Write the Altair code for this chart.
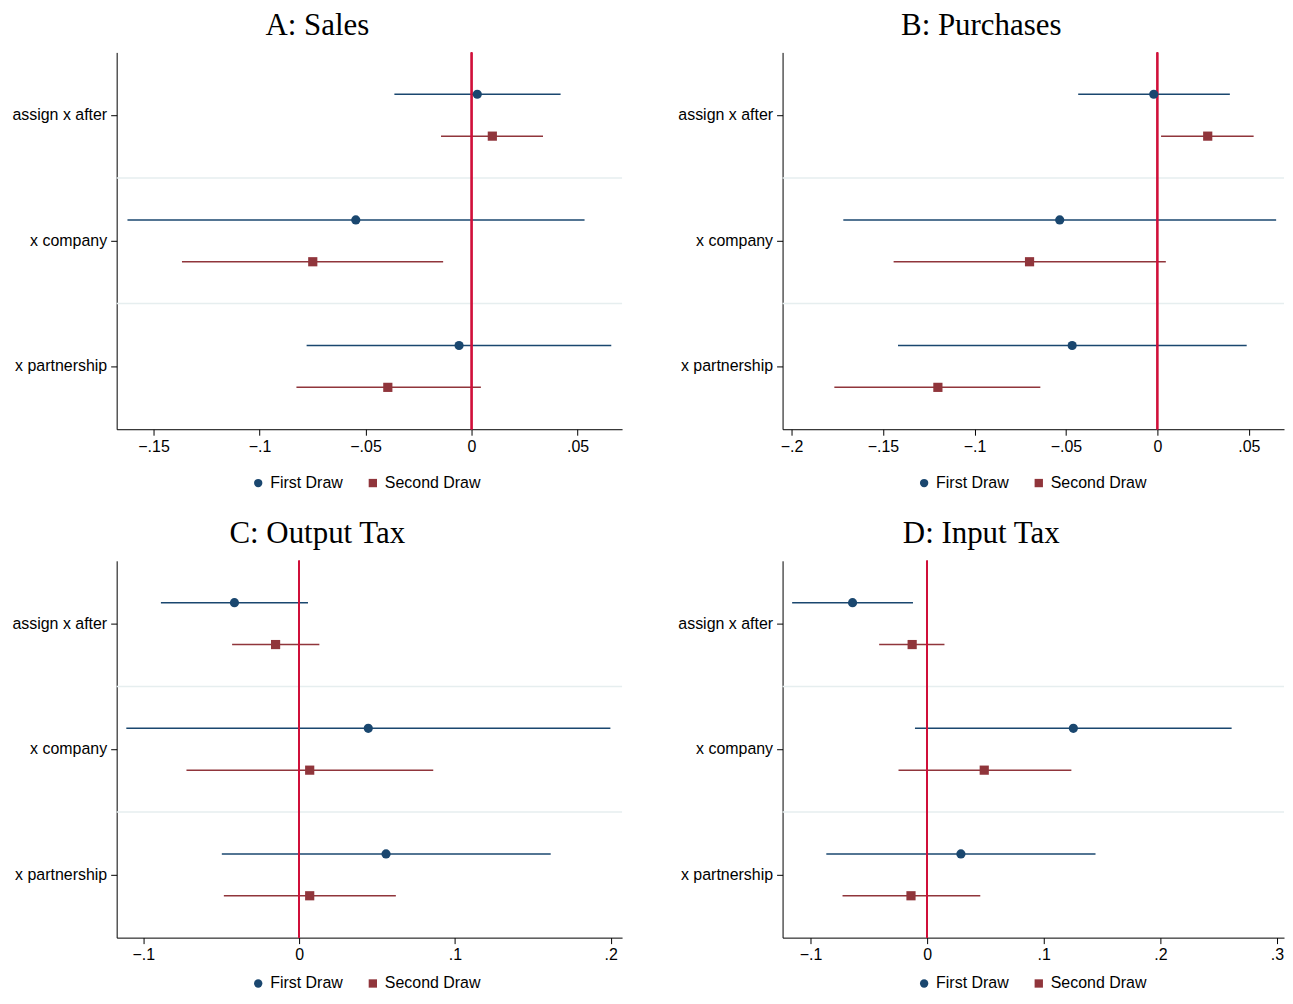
import altair as alt
import pandas as pd

terms = ["assign x after", "x company", "x partnership"]
draws = ["First Draw", "Second Draw"]

# Panel A: Sales
a_first_est = [0.0027, -0.0546, -0.0059]
a_first_lo = [-0.0364, -0.1623, -0.0778]
a_first_hi = [0.0420, 0.0533, 0.0659]
a_second_est = [0.0098, -0.0749, -0.0395]
a_second_lo = [-0.0144, -0.1366, -0.0826]
a_second_hi = [0.0337, -0.0134, 0.0044]

# Panel B: Purchases
b_first_est = [-0.0020, -0.0534, -0.0466]
b_first_lo = [-0.0433, -0.1717, -0.1418]
b_first_hi = [0.0396, 0.0649, 0.0488]
b_second_est = [0.0275, -0.0699, -0.1200]
b_second_lo = [0.0020, -0.1442, -0.1766]
b_second_hi = [0.0526, 0.0046, -0.0640]

# Panel C: Output Tax
c_first_est = [-0.0415, 0.0444, 0.0558]
c_first_lo = [-0.0887, -0.1109, -0.0496]
c_first_hi = [0.0057, 0.1998, 0.1615]
c_second_est = [-0.0151, 0.0068, 0.0068]
c_second_lo = [-0.0430, -0.0723, -0.0483]
c_second_hi = [0.0130, 0.0861, 0.0621]

# Panel D: Input Tax
d_first_est = [-0.0639, 0.1254, 0.0290]
d_first_lo = [-0.1157, -0.0104, -0.0864]
d_first_hi = [-0.0121, 0.2611, 0.1444]
d_second_est = [-0.0128, 0.0490, -0.0138]
d_second_lo = [-0.0411, -0.0245, -0.0725]
d_second_hi = [0.0149, 0.1237, 0.0456]

titles = ["A: Sales", "B: Purchases", "C: Output Tax", "D: Input Tax"]
domains = [[-0.1674, 0.0710], [-0.2049, 0.0692], [-0.1171, 0.2073], [-0.1239, 0.3060]]
tick_values = [
    [-0.15, -0.1, -0.05, 0, 0.05],
    [-0.2, -0.15, -0.1, -0.05, 0, 0.05],
    [-0.1, 0, 0.1, 0.2],
    [-0.1, 0, 0.1, 0.2, 0.3],
]

NAVY = "#1a476f"
MAROON = "#90353b"
ZERO = "#d0103a"
SEP = "#e6eeef"
WIDTHS = [507, 503, 507, 503]
H = 378
LABEL_FONT = "Liberation Sans"

label_expr = ("datum.value == 0 ? '0' : (datum.value < 0 ? '\u2212' : '') + "
              "substring(format(abs(datum.value), '.2~f'), 1)")


def make_df(fe, fl, fh, se, sl, sh):
    rows = []
    for i, t in enumerate(terms):
        rows.append({"term": t, "draw": draws[0], "est": fe[i], "lo": fl[i], "hi": fh[i]})
        rows.append({"term": t, "draw": draws[1], "est": se[i], "lo": sl[i], "hi": sh[i]})
    return pd.DataFrame(rows)


def panel(df, title, domain, ticks, width, legend_y):
    xscale = alt.Scale(domain=domain, nice=False, zero=False)
    xaxis = alt.Axis(values=ticks, labelExpr=label_expr, title=None, grid=False,
                     tickSize=6, labelPadding=3, labelFontSize=16, labelFont=LABEL_FONT,
                     labelColor="black", domainColor="black", tickColor="black")
    yaxis = alt.Axis(title=None, grid=False, tickSize=6, labelPadding=4, labelFontSize=16,
                     labelFont=LABEL_FONT, labelColor="black", domainColor="black",
                     tickColor="black")
    yscale = alt.Scale(domain=terms, paddingInner=0, paddingOuter=0)
    yenc = alt.Y("term:N", sort=terms, scale=yscale, axis=yaxis)
    yoff = alt.YOffset("draw:N", sort=draws,
                       scale=alt.Scale(domain=draws, paddingInner=0, paddingOuter=0.5))
    cscale = alt.Scale(domain=draws, range=[NAVY, MAROON])
    leg = alt.Legend(title=None, orient="none", legendX=134, legendY=legend_y,
                     direction="horizontal",
                     labelFontSize=16, labelFont=LABEL_FONT, labelColor="black",
                     symbolSize=70, symbolStrokeWidth=0, labelOffset=4, columnPadding=22,
                     symbolOpacity=1)

    sep_df = pd.DataFrame({"term": terms[1:]})
    seps = alt.Chart(sep_df).mark_rule(color=SEP, strokeWidth=1.5).encode(
        y=alt.Y("term:N", sort=terms, bandPosition=0, scale=yscale, axis=yaxis)
    )
    ci_first = alt.Chart(df).mark_rule(strokeWidth=1.5, color=NAVY).encode(
        y=yenc, yOffset=yoff,
        x=alt.X("lo:Q", scale=xscale, axis=xaxis),
        x2="hi:Q",
    ).transform_filter(alt.datum.draw == draws[0])
    ci_second = alt.Chart(df).mark_rule(strokeWidth=1.5, color=MAROON).encode(
        y=yenc, yOffset=yoff,
        x=alt.X("lo:Q", scale=xscale, axis=xaxis),
        x2="hi:Q",
    ).transform_filter(alt.datum.draw == draws[1])
    zero = alt.Chart(df).mark_rule(color=ZERO, strokeWidth=1.5).encode(
        x=alt.datum(0, scale=xscale)
    )
    pts = alt.Chart(df).mark_point(filled=True, opacity=1, size=85).encode(
        y=yenc, yOffset=yoff,
        x=alt.X("est:Q", scale=xscale, axis=xaxis),
        color=alt.Color("draw:N", scale=cscale, legend=leg),
        shape=alt.Shape("draw:N", scale=alt.Scale(domain=draws, range=["circle", "square"]),
                        legend=leg),
    )
    return alt.layer(seps, ci_first, ci_second, zero, pts).properties(
        width=width, height=H,
        title=alt.TitleParams(title, font="Liberation Serif", fontSize=31, fontWeight="normal",
                              color="black", frame="bounds", anchor="middle", offset=10),
    )


dfs = [
    make_df(a_first_est, a_first_lo, a_first_hi, a_second_est, a_second_lo, a_second_hi),
    make_df(b_first_est, b_first_lo, b_first_hi, b_second_est, b_second_lo, b_second_hi),
    make_df(c_first_est, c_first_lo, c_first_hi, c_second_est, c_second_lo, c_second_hi),
    make_df(d_first_est, d_first_lo, d_first_hi, d_second_est, d_second_lo, d_second_hi),
]
legend_ys = [424, 424, 416, 416]
panels = [panel(dfs[i], titles[i], domains[i], tick_values[i], WIDTHS[i], legend_ys[i])
          for i in range(4)]


def row(p1, p2):
    return alt.hconcat(p1, p2, spacing=54).resolve_scale(
        color="independent", shape="independent", x="independent").resolve_legend(
        color="independent", shape="independent")


chart = alt.vconcat(row(panels[0], panels[1]), row(panels[2], panels[3]), spacing=27).resolve_scale(
    color="independent", shape="independent", x="independent").resolve_legend(
    color="independent", shape="independent").properties(
    padding={"left": 3, "top": 0, "right": 0, "bottom": 0}, background="white"
).configure_view(stroke="transparent", strokeWidth=0)

chart.save("out.html", embed_options={"renderer": "svg", "actions": False})
